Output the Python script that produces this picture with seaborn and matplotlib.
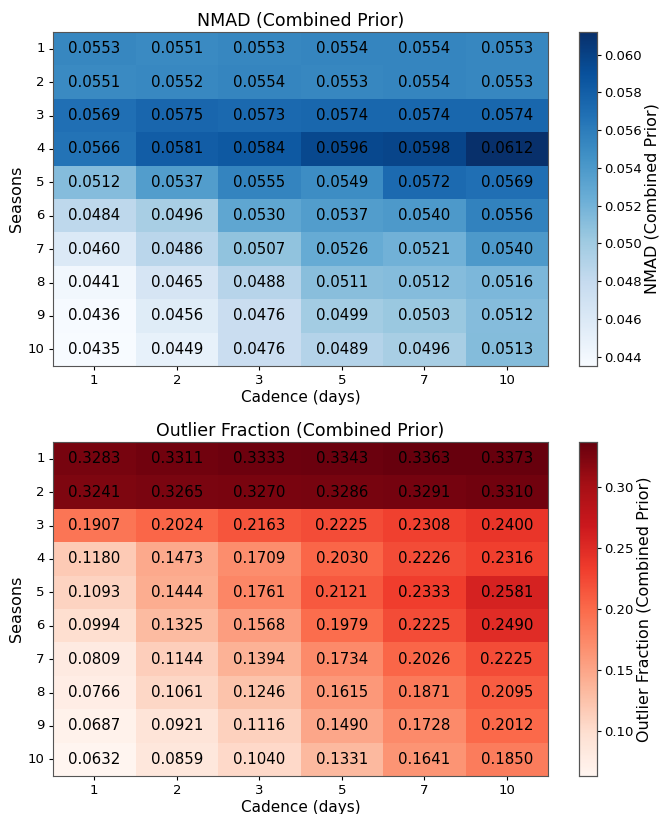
import numpy as np
import pandas as pd
import matplotlib
matplotlib.use("Agg")
import matplotlib.pyplot as plt
import seaborn as sns

seasons = [1, 2, 3, 4, 5, 6, 7, 8, 9, 10]
cadences = [1, 2, 3, 5, 7, 10]

nmad = [
    [0.0553, 0.0551, 0.0553, 0.0554, 0.0554, 0.0553],
    [0.0551, 0.0552, 0.0554, 0.0553, 0.0554, 0.0553],
    [0.0569, 0.0575, 0.0573, 0.0574, 0.0574, 0.0574],
    [0.0566, 0.0581, 0.0584, 0.0596, 0.0598, 0.0612],
    [0.0512, 0.0537, 0.0555, 0.0549, 0.0572, 0.0569],
    [0.0484, 0.0496, 0.0530, 0.0537, 0.0540, 0.0556],
    [0.0460, 0.0486, 0.0507, 0.0526, 0.0521, 0.0540],
    [0.0441, 0.0465, 0.0488, 0.0511, 0.0512, 0.0516],
    [0.0436, 0.0456, 0.0476, 0.0499, 0.0503, 0.0512],
    [0.0435, 0.0449, 0.0476, 0.0489, 0.0496, 0.0513],
]

outlier = [
    [0.3283, 0.3311, 0.3333, 0.3343, 0.3363, 0.3373],
    [0.3241, 0.3265, 0.3270, 0.3286, 0.3291, 0.3310],
    [0.1907, 0.2024, 0.2163, 0.2225, 0.2308, 0.2400],
    [0.1180, 0.1473, 0.1709, 0.2030, 0.2226, 0.2316],
    [0.1093, 0.1444, 0.1761, 0.2121, 0.2333, 0.2581],
    [0.0994, 0.1325, 0.1568, 0.1979, 0.2225, 0.2490],
    [0.0809, 0.1144, 0.1394, 0.1734, 0.2026, 0.2225],
    [0.0766, 0.1061, 0.1246, 0.1615, 0.1871, 0.2095],
    [0.0687, 0.0921, 0.1116, 0.1490, 0.1728, 0.2012],
    [0.0632, 0.0859, 0.1040, 0.1331, 0.1641, 0.1850],
]

df_nmad = pd.DataFrame(nmad, index=seasons, columns=cadences)
df_out = pd.DataFrame(outlier, index=seasons, columns=cadences)

fig = plt.figure(figsize=(6.59, 8.14), dpi=100)
W, H = 659, 814
def rect(x0, y0, x1, y1):
    return [x0 / W, 1 - y1 / H, (x1 - x0) / W, (y1 - y0) / H]

ax1 = fig.add_axes(rect(53, 32, 548, 366))
cax1 = fig.add_axes(rect(579, 32, 597, 366))
ax2 = fig.add_axes(rect(53, 442, 548, 776))
cax2 = fig.add_axes(rect(579, 442, 597, 776))

for ax, cax, df, cmap, title in [
    (ax1, cax1, df_nmad, "Blues", "NMAD (Combined Prior)"),
    (ax2, cax2, df_out, "Reds", "Outlier Fraction (Combined Prior)"),
]:
    sns.heatmap(df, ax=ax, cbar_ax=cax, cmap=cmap, annot=True, fmt=".4f",
                annot_kws={"fontsize": 10.8, "color": "black"})
    ax.set_title(title, fontsize=12.5, pad=4)
    ax.set_xlabel("Cadence (days)", fontsize=11, labelpad=2)
    ax.set_ylabel("Seasons", fontsize=11.5, labelpad=3)
    ax.tick_params(axis="both", labelsize=9.5, rotation=0, length=3, pad=3)
    for s in ax.spines.values():
        s.set_visible(True)
        s.set_color("#555555")
        s.set_linewidth(0.8)
    cax.tick_params(labelsize=9.5, length=3, pad=2)
    cax.set_ylabel(title, fontsize=11.5, labelpad=2)
    for s in cax.spines.values():
        s.set_visible(True)
        s.set_color("#555555")
        s.set_linewidth(0.8)

fig.savefig("out.png", dpi=100)
